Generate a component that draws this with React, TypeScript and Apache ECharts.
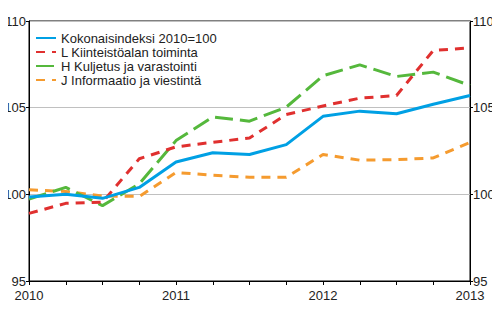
import React, { useEffect, useRef } from "react";
import * as echarts from "echarts";

const categories = [
  "2010Q1", "2010Q2", "2010Q3", "2010Q4",
  "2011Q1", "2011Q2", "2011Q3", "2011Q4",
  "2012Q1", "2012Q2", "2012Q3", "2012Q4",
  "2013Q1",
];

const kokonais = [99.85, 100.0, 99.77, 100.4, 101.87, 102.4, 102.3, 102.87, 104.5, 104.8, 104.65, 105.2, 105.7];
const kiinteisto = [98.9, 99.48, 99.55, 102.05, 102.74, 103.0, 103.25, 104.6, 105.1, 105.55, 105.7, 108.3, 108.45];
const kuljetus = [99.73, 100.4, 99.35, 100.6, 103.1, 104.46, 104.22, 105.03, 106.84, 107.47, 106.8, 107.05, 106.28];
const informaatio = [100.26, 100.17, 99.9, 99.88, 101.26, 101.1, 100.98, 100.98, 102.3, 101.97, 102.0, 102.1, 102.99];

const seriesNames = [
  "Kokonaisindeksi 2010=100",
  "L Kiinteistöalan toiminta",
  "H Kuljetus ja varastointi",
  "J Informaatio ja viestintä",
];

const yTicks = { min: 95, max: 110, interval: 5 };

const FONT = "'Liberation Sans', Arial, sans-serif";

export default function App() {
  const ref = useRef<HTMLDivElement>(null);

  useEffect(() => {
    if (!ref.current) return;
    const chart = echarts.init(ref.current, undefined, { renderer: "svg" });

    const yAxisBase = (position: "left" | "right") => ({
      type: "value" as const,
      position,
      min: yTicks.min,
      max: yTicks.max,
      interval: yTicks.interval,
      axisLine: { show: true, lineStyle: { color: "#000", width: 1 } },
      axisTick: { show: true, length: 3, lineStyle: { color: "#000" } },
      axisLabel: { color: "#222", fontSize: 13, fontFamily: FONT, margin: 3 },
      splitLine: {
        show: position === "left",
        lineStyle: { color: "#c0c0c0", width: 1 },
      },
    });

    const mk = (name: string, data: number[], color: string, type: any, z: number) => ({
      name,
      type: "line" as const,
      data,
      symbol: "none",
      showSymbol: false,
      z,
      lineStyle: { color, width: 3, type },
      itemStyle: { color },
    });

    chart.setOption({
      animation: false,
      backgroundColor: "#fff",
      grid: {
        left: 29,
        right: 30,
        top: 21,
        bottom: 49,
        show: true,
        borderColor: "#000",
        borderWidth: 1,
        containLabel: false,
      },
      legend: {
        orient: "vertical",
        left: 30,
        top: 26,
        itemWidth: 20,
        itemHeight: 14,
        itemGap: 0,
        selectedMode: false,
        itemStyle: { color: "transparent", borderWidth: 0, opacity: 0 },
        textStyle: { color: "#222", fontSize: 13, fontFamily: FONT, lineHeight: 14 },
        data: seriesNames,
      },
      xAxis: {
        type: "category",
        data: categories,
        boundaryGap: false,
        axisLine: { show: true, lineStyle: { color: "#000", width: 1 } },
        axisTick: { show: true, interval: 0, length: 4, lineStyle: { color: "#000" } },
        axisLabel: {
          interval: 0,
          color: "#222",
          fontSize: 13,
          fontFamily: FONT,
          margin: 8,
          formatter: (v: string) => (v.endsWith("Q1") ? v.slice(0, 4) : ""),
        },
        splitLine: { show: false },
      },
      yAxis: [yAxisBase("left"), yAxisBase("right")],
      series: [
        mk(seriesNames[0], kokonais, "#00a0e4", "solid", 5),
        mk(seriesNames[1], kiinteisto, "#e0302f", [9, 7], 4),
        mk(seriesNames[2], kuljetus, "#55b83c", [18, 7], 3),
        mk(seriesNames[3], informaatio, "#f59b2f", [9, 7], 2),
      ],
    });

    return () => chart.dispose();
  }, []);

  return <div ref={ref} style={{ width: 500, height: 330, margin: -8 }} />;
}
